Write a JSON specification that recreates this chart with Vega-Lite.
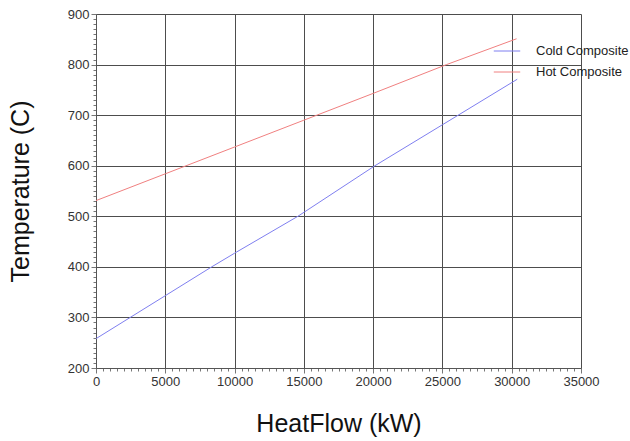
{
  "$schema": "https://vega.github.io/schema/vega-lite/v6.json",
  "autosize": "none",
  "width": 485,
  "height": 354,
  "padding": {"left": 96, "top": 14, "right": 49, "bottom": 73},
  "background": "white",
  "config": {
    "font": "Liberation Sans",
    "view": {"stroke": null}
  },
  "data": {
    "values": [
      {"series": "Cold Composite", "heatflow": 0, "temperature": 258},
      {"series": "Cold Composite", "heatflow": 5000, "temperature": 343},
      {"series": "Cold Composite", "heatflow": 8350, "temperature": 400},
      {"series": "Cold Composite", "heatflow": 10000, "temperature": 427},
      {"series": "Cold Composite", "heatflow": 14570, "temperature": 500},
      {"series": "Cold Composite", "heatflow": 20130, "temperature": 600},
      {"series": "Cold Composite", "heatflow": 25000, "temperature": 681},
      {"series": "Cold Composite", "heatflow": 30400, "temperature": 771},
      {"series": "Hot Composite", "heatflow": 0, "temperature": 531},
      {"series": "Hot Composite", "heatflow": 5000, "temperature": 584},
      {"series": "Hot Composite", "heatflow": 10000, "temperature": 637},
      {"series": "Hot Composite", "heatflow": 15000, "temperature": 690},
      {"series": "Hot Composite", "heatflow": 20000, "temperature": 743},
      {"series": "Hot Composite", "heatflow": 25300, "temperature": 800},
      {"series": "Hot Composite", "heatflow": 30350, "temperature": 851}
    ]
  },
  "mark": {"type": "line", "strokeWidth": 1},
  "encoding": {
    "x": {
      "field": "heatflow",
      "type": "quantitative",
      "scale": {"domain": [0, 35000], "nice": false, "zero": false},
      "axis": {
        "title": "HeatFlow (kW)",
        "titleFontSize": 25,
        "titleFontWeight": "normal",
        "titleColor": "#111",
        "titlePadding": 23,
        "values": [0,500,1000,1500,2000,2500,3000,3500,4000,4500,5000,5500,6000,6500,7000,7500,8000,8500,9000,9500,10000,10500,11000,11500,12000,12500,13000,13500,14000,14500,15000,15500,16000,16500,17000,17500,18000,18500,19000,19500,20000,20500,21000,21500,22000,22500,23000,23500,24000,24500,25000,25500,26000,26500,27000,27500,28000,28500,29000,29500,30000,30500,31000,31500,32000,32500,33000,33500,34000,34500,35000],
        "labelExpr": "datum.value % 5000 === 0 ? datum.value : ''",
        "format": "d",
        "labelFontSize": 13,
        "labelColor": "#333",
        "labelPadding": 2,
        "labelFlush": false,
        "labelOverlap": false,
        "domainColor": "#555",
        "tickColor": "#777",
        "tickSize": {"condition": {"test": "datum.value % 5000 === 0", "value": 5}, "value": 3},
        "grid": true,
        "gridColor": "#4d4d4d",
        "gridOpacity": {"condition": {"test": "datum.value % 5000 === 0", "value": 1}, "value": 0}
      }
    },
    "y": {
      "field": "temperature",
      "type": "quantitative",
      "scale": {"domain": [200, 900], "nice": false, "zero": false},
      "axis": {
        "title": "Temperature (C)",
        "titleFontSize": 25,
        "titleFontWeight": "normal",
        "titleColor": "#111",
        "titlePadding": 34,
        "values": [200,210,220,230,240,250,260,270,280,290,300,310,320,330,340,350,360,370,380,390,400,410,420,430,440,450,460,470,480,490,500,510,520,530,540,550,560,570,580,590,600,610,620,630,640,650,660,670,680,690,700,710,720,730,740,750,760,770,780,790,800,810,820,830,840,850,860,870,880,890,900],
        "labelExpr": "datum.value % 100 === 0 ? datum.value : ''",
        "labelFontSize": 13,
        "labelColor": "#333",
        "labelPadding": 2,
        "labelFlush": false,
        "labelOverlap": false,
        "domainColor": "#555",
        "tickColor": "#777",
        "tickSize": {"condition": {"test": "datum.value % 100 === 0", "value": 5}, "value": 3},
        "grid": true,
        "gridColor": "#4d4d4d",
        "gridOpacity": {"condition": {"test": "datum.value % 100 === 0", "value": 1}, "value": 0}
      }
    },
    "color": {
      "field": "series",
      "type": "nominal",
      "scale": {"domain": ["Cold Composite", "Hot Composite"], "range": ["#7f7ff0", "#f08080"]},
      "legend": {
        "title": null,
        "orient": "none",
        "legendX": 397,
        "legendY": 23,
        "symbolType": "stroke",
        "symbolSize": 700,
        "symbolStrokeWidth": 1,
        "labelFontSize": 13,
        "labelColor": "#222",
        "labelOffset": 15,
        "rowPadding": 0
      }
    }
  }
}
